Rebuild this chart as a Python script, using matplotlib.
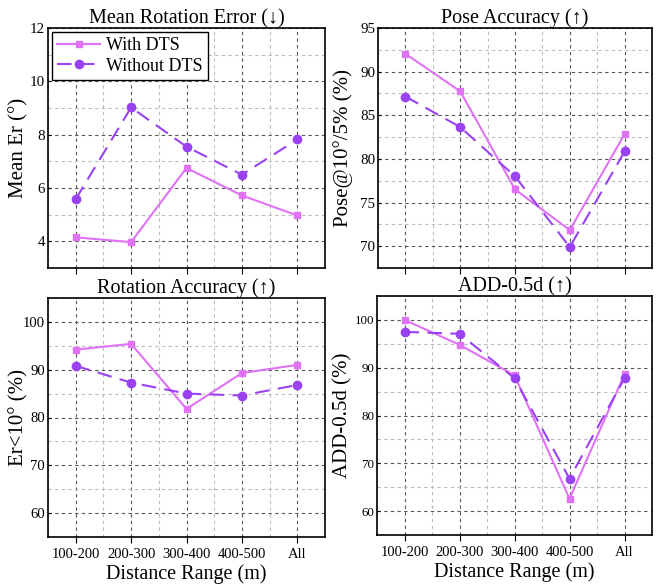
import matplotlib.pyplot as plt
from matplotlib.ticker import MultipleLocator

plt.rcParams['font.family'] = ['Liberation Serif', 'DejaVu Serif']
plt.rcParams['mathtext.fontset'] = 'stix'

ranges = ['100-200', '200-300', '300-400', '400-500', 'All']

mean_er_with = [4.15, 3.97, 6.75, 5.72, 4.97]
mean_er_without = [5.58, 9.02, 7.55, 6.50, 7.82]

pose_acc_with = [92.05, 87.75, 76.5, 71.85, 82.85]
pose_acc_without = [87.15, 83.65, 78.0, 69.9, 80.85]

rot_acc_with = [94.2, 95.4, 81.8, 89.3, 91.0]
rot_acc_without = [90.8, 87.3, 85.0, 84.6, 86.8]

add_with = [100.0, 94.8, 88.4, 62.6, 88.6]
add_without = [97.5, 97.1, 87.8, 66.8, 87.8]

c_with = '#E072F5'
c_without = '#9A42F2'

fig = plt.figure(figsize=(6.56, 5.85), dpi=100)
W, H = 656, 585
def add_ax(l, t, r, b):
    return fig.add_axes([l / W, 1 - b / H, (r - l) / W, (b - t) / H])

axes = [add_ax(48, 28, 325, 268), add_ax(378, 28, 652, 268),
        add_ax(48, 298, 325, 537), add_ax(377, 296, 652, 535)]

# title, ylabel, with, without, ylim, major, minor, ytick size, ylabel x
panels = [
    ('Mean Rotation Error (↓)', 'Mean Er (°)', mean_er_with, mean_er_without, (3, 12), 2, 1, 10.8, -0.072),
    ('Pose Accuracy (↑)', 'Pose@10°/5% (%)', pose_acc_with, pose_acc_without, (67.5, 95), 5, 2.5, 10.8, -0.09),
    ('Rotation Accuracy (↑)', 'Er<10° (%)', rot_acc_with, rot_acc_without, (55, 105), 10, 5, 10.6, -0.072),
    ('ADD-0.5d (↑)', 'ADD-0.5d (%)', add_with, add_without, (55, 105), 10, 5, 9.3, -0.088),
]

x = list(range(len(ranges)))
for i, (ax, (title, ylab, yw, ywo, ylim, maj, mnr, ysz, ylx)) in enumerate(zip(axes, panels)):
    ax.plot(x, yw, color=c_with, marker='s', markersize=5, linewidth=1.5, label='With DTS', zorder=3)
    ax.plot(x, ywo, color=c_without, marker='o', markersize=6, linewidth=1.5,
            linestyle=(0, (7, 4)), label='Without DTS', zorder=3)
    ax.set_xlim(-0.5, 4.5)
    ax.set_ylim(*ylim)
    ax.set_xticks(x)
    ax.xaxis.set_minor_locator(MultipleLocator(0.5))
    ax.yaxis.set_major_locator(MultipleLocator(maj))
    ax.yaxis.set_minor_locator(MultipleLocator(mnr))
    ax.grid(which='major', color='#555555', linestyle=(0, (3, 3)), linewidth=0.8)
    ax.grid(which='minor', color='#bbbbbb', linestyle=(0, (3, 3)), linewidth=0.8)
    ax.tick_params(which='minor', length=0)
    ax.tick_params(axis='x', which='major', direction='out', length=4, pad=4, labelsize=10.5)
    ax.tick_params(axis='y', which='major', direction='in', length=2.5, pad=2, labelsize=ysz)
    ax.set_title(title, fontsize=14.5, pad=3)
    ax.set_ylabel(ylab, fontsize=15)
    ax.yaxis.set_label_coords(ylx, 0.5)
    for s in ax.spines.values():
        s.set_linewidth(1.2)
    if i < 2:
        ax.set_xticklabels([])
    else:
        ax.set_xticklabels(ranges)
        ax.set_xlabel('Distance Range (m)', fontsize=14.5, labelpad=2)
    if i == 0:
        leg = ax.legend(loc='upper left', fontsize=13, fancybox=False, edgecolor='black',
                        framealpha=1, borderpad=0.3, handlelength=2.4, handletextpad=0.3,
                        borderaxespad=0.2, labelspacing=0.2)
        leg.get_frame().set_linewidth(1.0)

fig.savefig('out.png', dpi=100)
